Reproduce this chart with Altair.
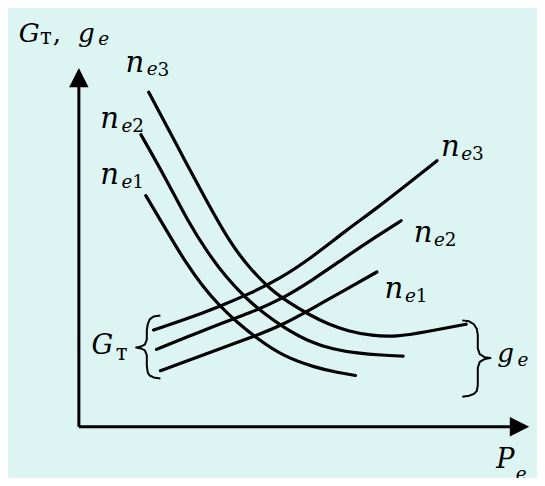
import altair as alt
import pandas as pd

# Everything below (picture pixels, y downward),
# then converted to the chart's own units: P = x - 73, G = 433 - y (origin at the axis corner).
OX, OY = 73, 433

# g_e curves (falling) for n_e1..n_e3
ge_ne3_x = [145, 173, 203, 230, 250, 270, 290, 310, 330, 350, 375, 400, 430, 472]
ge_ne3_y = [87, 140, 197, 245, 270, 291, 305, 317, 327, 334, 339, 340, 335, 327]
ge_ne2_x = [137, 163, 185, 205, 225, 245, 265, 285, 310, 335, 360, 385, 407]
ge_ne2_y = [131, 177, 220, 252, 279, 300, 317, 331, 345, 353, 357, 359, 360]
ge_ne1_x = [142, 155, 168, 183, 200, 217, 237, 257, 283, 317, 340, 358]
ge_ne1_y = [194, 216, 238, 263, 287, 307, 326, 342, 360, 372, 377, 380]
# G_T curves (rising)
gt_ne3_x = [150, 183, 217, 250, 280, 313, 347, 380, 413, 442]
gt_ne3_y = [333, 322, 309, 295, 280, 258, 231, 207, 181, 158]
gt_ne2_x = [153, 185, 217, 250, 280, 313, 347, 380, 405]
gt_ne2_y = [353, 340, 327, 315, 302, 282, 258, 236, 220]
gt_ne1_x = [157, 187, 217, 260, 280, 313, 350, 380]
gt_ne1_y = [375, 364, 353, 337, 329, 311, 290, 273]

# braces
lbrace_x = [157, 150, 146, 144, 143, 143, 141, 137, 132, 137, 141, 143, 143, 144, 146, 150, 157]
lbrace_y = [318, 319, 322, 327, 333, 343, 348, 350, 351, 352, 354, 359, 370, 377, 380, 382, 383]
rbrace_x = [468, 475, 480, 483, 484, 484, 486, 491, 497, 491, 486, 484, 484, 483, 480, 475, 468]
rbrace_y = [323, 324, 327, 332, 338, 352, 358, 361, 362, 363, 366, 372, 390, 396, 399, 401, 402]

# axes lines and arrow heads
yaxis_x = [73, 73]
yaxis_y = [433, 80]
xaxis_x = [73, 520]
xaxis_y = [433, 433]
arrow_x = [73, 527]
arrow_y = [72, 433]
arrow_shape = ["M0,-1L1,1L-1,1Z", "M1,0L-1,-1L-1,1Z"]

# text pieces: text, x (left), baseline y, size, italic
lab_text = ["G", "т", ",", "g", "e",
            "n", "e", "3", "n", "e", "2", "n", "e", "1",
            "n", "e", "3", "n", "e", "2", "n", "e", "1",
            "G", "т", "g", "e", "P", "e"]
lab_x = [11, 33, 46, 72, 93,
         121, 143, 154, 95, 117, 128, 95, 117, 128,
         446, 467, 478, 418, 439, 450, 388, 409, 420,
         86, 111, 504, 525, 503, 523]
lab_y = [35, 37, 35, 35, 38,
         66, 69, 70, 124, 128, 128, 182, 186, 186,
         153, 157, 157, 242, 246, 246, 300, 304, 304,
         358, 364, 366, 370, 476, 488]
lab_size = [27, 22, 27, 27, 19,
            30, 19, 19, 30, 19, 19, 30, 19, 19,
            30, 19, 19, 30, 19, 19, 30, 19, 19,
            28, 22, 27, 19, 28, 19]
lab_italic = [1, 0, 0, 1, 1,
              1, 1, 0, 1, 1, 0, 1, 1, 0,
              1, 1, 0, 1, 1, 0, 1, 1, 0,
              1, 0, 1, 1, 1, 1]

W, H = 529, 470
SX = W / 545
FONT = "DejaVu Serif"


def frame(name, xs, ys):
    return pd.DataFrame({"name": name, "i": range(len(xs)),
                         "P": [x - OX for x in xs], "G": [OY - y for y in ys]})


curves = pd.concat([
    frame("ge3", ge_ne3_x, ge_ne3_y), frame("ge2", ge_ne2_x, ge_ne2_y),
    frame("ge1", ge_ne1_x, ge_ne1_y), frame("gt3", gt_ne3_x, gt_ne3_y),
    frame("gt2", gt_ne2_x, gt_ne2_y), frame("gt1", gt_ne1_x, gt_ne1_y)])
braces = pd.concat([frame("l", lbrace_x, lbrace_y), frame("r", rbrace_x, rbrace_y)])
axes = pd.concat([frame("y", yaxis_x, yaxis_y), frame("x", xaxis_x, xaxis_y)])
arrows = pd.DataFrame({"P": [x - OX for x in arrow_x], "G": [OY - y for y in arrow_y],
                       "shape": arrow_shape})
labels = pd.DataFrame({"text": lab_text, "P": [x - OX for x in lab_x],
                       "G": [OY - y for y in lab_y],
                       "size": [s * SX for s in lab_size], "italic": lab_italic})

xs = alt.Scale(domain=[-OX, 545 - OX], nice=False, zero=False)
ys = alt.Scale(domain=[OY - 486, OY], nice=False, zero=False)
X = alt.X("P:Q", scale=xs, axis=None)
Y = alt.Y("G:Q", scale=ys, axis=None)

curve_layer = alt.Chart(curves).mark_line(
    interpolate="basis", strokeWidth=3.2, color="black", strokeCap="round"
).encode(x=X, y=Y, detail="name:N", order="i:Q")

brace_layer = alt.Chart(braces).mark_line(
    interpolate="linear", strokeWidth=2, color="black", strokeJoin="round"
).encode(x=X, y=Y, detail="name:N", order="i:Q")

axis_layer = alt.Chart(axes).mark_line(strokeWidth=3, color="black").encode(
    x=X, y=Y, detail="name:N", order="i:Q")

arrow_layer = alt.Chart(arrows).mark_point(
    filled=True, color="black", opacity=1, size=400 * SX * SX, strokeWidth=0
).encode(x=X, y=Y, shape=alt.Shape("shape:N", scale=None))

text_common = dict(font=FONT, align="left", baseline="alphabetic", color="black")
italic_layer = alt.Chart(labels).transform_filter("datum.italic == 1").mark_text(
    fontStyle="italic", **text_common
).encode(x=X, y=Y, text="text:N", size=alt.Size("size:Q", scale=None))
normal_layer = alt.Chart(labels).transform_filter("datum.italic == 0").mark_text(
    **text_common
).encode(x=X, y=Y, text="text:N", size=alt.Size("size:Q", scale=None))

chart = alt.layer(axis_layer, arrow_layer, curve_layer, brace_layer,
                  italic_layer, normal_layer).properties(
    width=W, height=H, autosize=alt.AutoSizeParams(type="none"), padding=0,
    background="#DDF5F2"
).configure_view(stroke=None)

chart.save("out.html", embed_options={"renderer": "svg", "actions": False})
